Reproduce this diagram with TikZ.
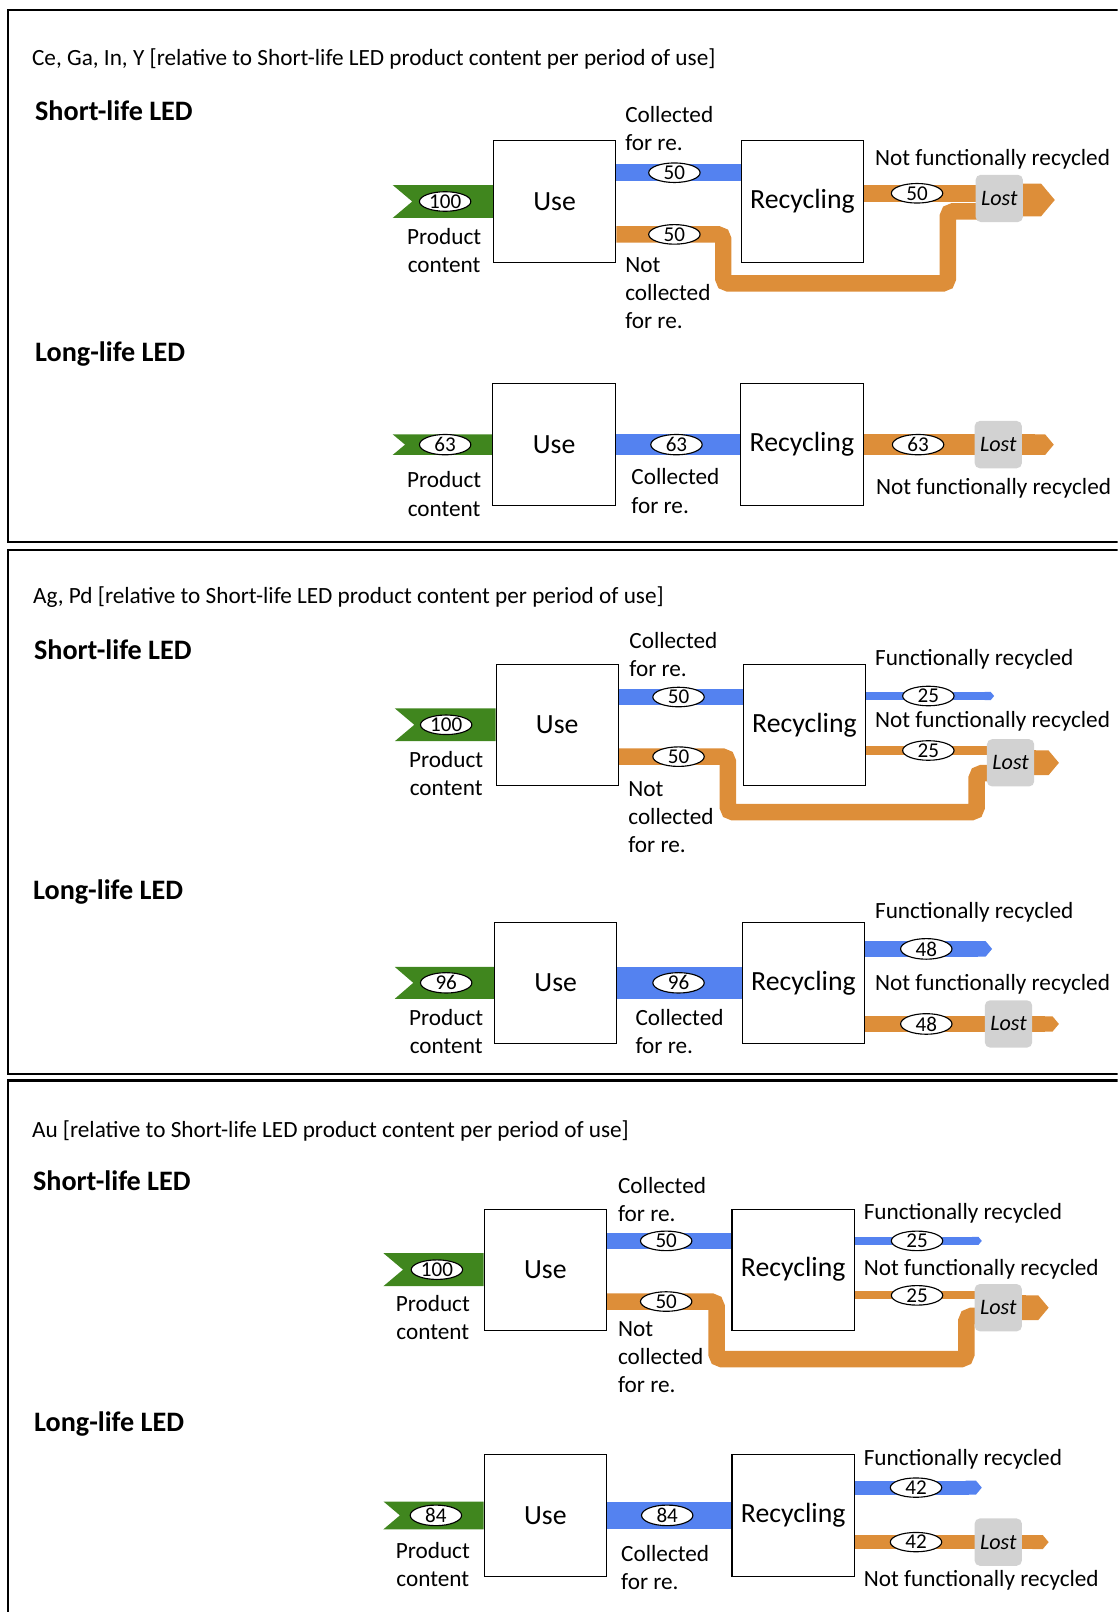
\documentclass[tikz,border=0pt]{standalone}
\usepackage{fontspec}
\setmainfont{Carlito}
\usetikzlibrary{arrows.meta,shapes.geometric,backgrounds}

\definecolor{flowgreen}{RGB}{64,134,30}
\definecolor{flowblue}{RGB}{84,130,240}
\definecolor{floworange}{RGB}{221,142,57}
\definecolor{lostgray}{RGB}{210,210,210}

\tikzset{
  box/.style={draw, line width=1pt, fill=white, minimum width=119pt, minimum height=118pt, inner sep=0pt, font=\fontsize{27}{32}\selectfont},
  lost/.style={fill=lostgray, rounded corners=5pt, minimum width=46pt, minimum height=46pt, inner sep=0pt, font=\fontsize{21.5}{25}\selectfont\itshape},
  val/.style={ellipse, draw, fill=white, line width=1.1pt, minimum width=50pt, minimum height=17.5pt, inner sep=0pt, font=\fontsize{20.5}{21}\selectfont},
  lbl/.style={anchor=west, align=left, inner sep=0pt, font=\fontsize{22.6}{27.5}\selectfont},
  lblc/.style={align=center, inner sep=0pt, font=\fontsize{22.6}{27.5}\selectfont},
  ptitle/.style={anchor=west, inner sep=0pt, font=\fontsize{22.6}{27}\selectfont},
  heading/.style={anchor=west, inner sep=0pt, font=\fontsize{27.4}{32}\selectfont\bfseries},
  flowb/.style={draw=flowblue},
  flowo/.style={draw=floworange, rounded corners=5pt},
  outtip/.style={-{Triangle Cap[cap angle=100]}},
  panel/.style={draw, line width=2pt},
}

\begin{document}
\begin{tikzpicture}[x=1pt, y=-1pt]
  \useasboundingbox (0,0) rectangle (1087,1568);
  \clip (0,0) rectangle (1087,1568);

  \draw[panel] (8,10) rectangle (1100,527);
  \draw[panel] (8,535) rectangle (1100,1045);
  \draw[panel] (8,1051) rectangle (1100,1600);

  \node[ptitle] (titleA) at (31,57) {Ce, Ga, In, Y [relative to Short-life LED product content per period of use]};
  \node[heading] (shortA) at (34,108) {Short-life LED};
  \node[heading] (longA) at (34,344) {Long-life LED};
  \node[ptitle] (titleB) at (32,581) {Ag, Pd [relative to Short-life LED product content per period of use]};
  \node[heading] (shortB) at (33,632) {Short-life LED};
  \node[heading] (longB) at (32,868) {Long-life LED};
  \node[ptitle] (titleC) at (31,1100) {Au [relative to Short-life LED product content per period of use]};
  \node[heading] (shortC) at (32,1148) {Short-life LED};
  \node[heading] (longC) at (33,1385) {Long-life LED};

  % Ce, Ga, In, Y - short-life
  \begin{scope}[shift={(539.5,196)}]
    \node[box] (useA) at (0,0) {Use};
    \node[box] (recA) at (241,0) {Recycling};
    \node[lost] (lostA) at (432.5,-3) {Lost};
    \node[val] (vA1) at (-106.5,0) {100};
    \node[val] (vA2) at (116.5,-28) {50};
    \node[val] (vA3) at (116.5,32) {50};
    \node[val] (vA4) at (352.5,-8) {50};
    \node[lblc] (pcA) at (-107.5,47.5) {Product\\content};
    \node[lbl] (colA) at (68.5,-71) {Collected\\for re.};
    \node[lbl] (ncolA) at (68.5,89) {Not\\collected\\for re.};
    \node[lbl] (nfrA) at (311.5,-41) {Not functionally recycled};
    \coordinate (inA) at (-157.5,0);
    \coordinate (outA) at (486.5,-1.5);
    \begin{pgfonlayer}{background}
      \fill[flowgreen] (useA.west |- 0,-16) -- (inA |- 0,-16) -- ([xshift=19pt]inA) -- (inA |- 0,16) -- (useA.west |- 0,16) -- cycle;
      \draw[flowb, line width=16pt] (useA.east |- 0,-28) -- (recA.west |- 0,-28);
      \draw[flowo, line width=16pt] (useA.east |- 0,32) -- (164,32) -- (164,79.7) -- (382.5,79.7) -- (382.5,9.6) -- (lostA.center |- 0,9.6);
      \draw[flowo, line width=16pt] (recA.east |- 0,-8) -- (lostA.center |- 0,-8);
      \draw[draw=floworange, line width=32pt, outtip] (lostA.center |- outA) -- (outA);
    \end{pgfonlayer}
  \end{scope}

  % Ce, Ga, In, Y - long-life
  \begin{scope}[shift={(539,432.5)}]
    \node[box] (useB) at (0,0) {Use};
    \node[box] (recB) at (241,0) {Recycling};
    \node[lost] (lostB) at (432,0) {Lost};
    \node[val] (vB1) at (-106,0) {63};
    \node[val] (vB2) at (119,0) {63};
    \node[val] (vB3) at (354,0) {63};
    \node[lblc] (pcB) at (-107,48) {Product\\content};
    \node[lbl] (colB) at (75,45) {Collected\\for re.};
    \node[lbl] (nfrB) at (313,42.5) {Not functionally recycled};
    \coordinate (inB) at (-157,0);
    \coordinate (outB) at (486,0);
    \begin{pgfonlayer}{background}
      \fill[flowgreen] (useB.west |- 0,-10) -- (inB |- 0,-10) -- ([xshift=12pt]inB) -- (inB |- 0,10) -- (useB.west |- 0,10) -- cycle;
      \draw[flowb, line width=20pt] (useB.east) -- (recB.west);
      \draw[draw=floworange, line width=20pt, outtip] (recB.east) -- (outB);
    \end{pgfonlayer}
  \end{scope}

  % Ag, Pd - short-life
  \begin{scope}[shift={(542,705)}]
    \node[box] (useC) at (0,0) {Use};
    \node[box] (recC) at (240.5,0) {Recycling};
    \node[lost] (lostC) at (441,37) {Lost};
    \node[val] (vC1) at (-108,0) {100};
    \node[val] (vC2) at (118,-27) {50};
    \node[val] (vC3) at (118,31) {50};
    \node[val] (vC4) at (361,-28) {25};
    \node[val] (vC5) at (361,25) {25};
    \node[lblc] (pcC) at (-108,47.5) {Product\\content};
    \node[lbl] (colC) at (70,-68.5) {Collected\\for re.};
    \node[lbl] (ncolC) at (69,90) {Not\\collected\\for re.};
    \node[lbl] (frC) at (309,-64) {Functionally recycled};
    \node[lbl] (nfrC) at (309,-3) {Not functionally recycled};
    \coordinate (inC) at (-158,0);
    \coordinate (endC) at (425,-28);
    \coordinate (outC) at (488,37);
    \begin{pgfonlayer}{background}
      \fill[flowgreen] (useC.west |- 0,-16) -- (inC |- 0,-16) -- ([xshift=19pt]inC) -- (inC |- 0,16) -- (useC.west |- 0,16) -- cycle;
      \draw[flowb, line width=16pt] (useC.east |- 0,-27) -- (recC.west |- 0,-27);
      \draw[flowo, line width=16pt] (useC.east |- 0,31) -- (166,31) -- (166,85) -- (408,85) -- (408,47) -- (lostC.center |- 0,47);
      \draw[flowb, line width=8pt, outtip] (recC.east |- endC) -- (endC);
      \draw[flowo, line width=8pt] (recC.east |- 0,25) -- (lostC.center |- 0,25);
      \draw[draw=floworange, line width=24pt, outtip] (lostC.center |- outC) -- (outC);
    \end{pgfonlayer}
  \end{scope}

  % Ag, Pd - long-life
  \begin{scope}[shift={(540.5,956)}]
    \node[box] (useD) at (0,0) {Use};
    \node[box] (recD) at (241,0) {Recycling};
    \node[lost] (lostD) at (440.5,40) {Lost};
    \node[val] (vD1) at (-106.5,0) {96};
    \node[val] (vD2) at (119.5,0) {96};
    \node[val] (vD3) at (360.5,-33) {48};
    \node[val] (vD4) at (360.5,40) {48};
    \node[lblc] (pcD) at (-106.5,47.5) {Product\\content};
    \node[lbl] (colD) at (77.5,47.5) {Collected\\for re.};
    \node[lbl] (frD) at (310.5,-69) {Functionally recycled};
    \node[lbl] (nfrD) at (310.5,1) {Not functionally recycled};
    \coordinate (inD) at (-156.5,0);
    \coordinate (endD) at (424.5,-33);
    \coordinate (outD) at (489.5,40);
    \begin{pgfonlayer}{background}
      \fill[flowgreen] (useD.west |- 0,-15.5) -- (inD |- 0,-15.5) -- ([xshift=18pt]inD) -- (inD |- 0,15.5) -- (useD.west |- 0,15.5) -- cycle;
      \draw[flowb, line width=31pt] (useD.east) -- (recD.west);
      \draw[flowb, line width=15pt, outtip] (recD.east |- endD) -- (endD);
      \draw[draw=floworange, line width=15pt, outtip] (recD.east |- outD) -- (outD);
    \end{pgfonlayer}
  \end{scope}

  % Au - short-life
  \begin{scope}[shift={(530.5,1235)}]
    \node[box] (useE) at (0,0) {Use};
    \node[box] (recE) at (241,0) {Recycling};
    \node[lost] (lostE) at (440.5,37) {Lost};
    \node[val] (vE1) at (-105.5,0) {100};
    \node[val] (vE2) at (117.5,-28) {50};
    \node[val] (vE3) at (117.5,31) {50};
    \node[val] (vE4) at (361.5,-28) {25};
    \node[val] (vE5) at (361.5,25) {25};
    \node[lblc] (pcE) at (-109.5,46.5) {Product\\content};
    \node[lbl] (colE) at (70.5,-68) {Collected\\for re.};
    \node[lbl] (ncolE) at (70.5,85) {Not\\collected\\for re.};
    \node[lbl] (frE) at (309.5,-55) {Functionally recycled};
    \node[lbl] (nfrE) at (309.5,0) {Not functionally recycled};
    \coordinate (inE) at (-157.5,0);
    \coordinate (endE) at (424.5,-28);
    \coordinate (outE) at (489.5,37);
    \begin{pgfonlayer}{background}
      \fill[flowgreen] (useE.west |- 0,-16) -- (inE |- 0,-16) -- ([xshift=19pt]inE) -- (inE |- 0,16) -- (useE.west |- 0,16) -- cycle;
      \draw[flowb, line width=16pt] (useE.east |- 0,-28) -- (recE.west |- 0,-28);
      \draw[flowo, line width=16pt] (useE.east |- 0,31) -- (166.5,31) -- (166.5,87) -- (409.5,87) -- (409.5,45) -- (lostE.center |- 0,45);
      \draw[flowb, line width=8pt, outtip] (recE.east |- endE) -- (endE);
      \draw[flowo, line width=8pt] (recE.east |- 0,25) -- (lostE.center |- 0,25);
      \draw[draw=floworange, line width=24pt, outtip] (lostE.center |- outE) -- (outE);
    \end{pgfonlayer}
  \end{scope}

  % Au - long-life
  \begin{scope}[shift={(530.5,1474)}]
    \node[box] (useF) at (0,0) {Use};
    \node[box] (recF) at (241,0) {Recycling};
    \node[lost] (lostF) at (440.5,26) {Lost};
    \node[val] (vF1) at (-106.5,0) {84};
    \node[val] (vF2) at (118.5,0) {84};
    \node[val] (vF3) at (360.5,-27) {42};
    \node[val] (vF4) at (360.5,26) {42};
    \node[lblc] (pcF) at (-109.5,47.5) {Product\\content};
    \node[lbl] (colF) at (73.5,50.5) {Collected\\for re.};
    \node[lbl] (frF) at (309.5,-55) {Functionally recycled};
    \node[lbl] (nfrF) at (309.5,63) {Not functionally recycled};
    \coordinate (inF) at (-157.5,0);
    \coordinate (endF) at (424.5,-27);
    \coordinate (outF) at (489.5,26);
    \begin{pgfonlayer}{background}
      \fill[flowgreen] (useF.west |- 0,-13.5) -- (inF |- 0,-13.5) -- ([xshift=16pt]inF) -- (inF |- 0,13.5) -- (useF.west |- 0,13.5) -- cycle;
      \draw[flowb, line width=27pt] (useF.east) -- (recF.west);
      \draw[flowb, line width=13.5pt, outtip] (recF.east |- endF) -- (endF);
      \draw[draw=floworange, line width=13.5pt, outtip] (recF.east |- outF) -- (outF);
    \end{pgfonlayer}
  \end{scope}
\end{tikzpicture}
\end{document}
